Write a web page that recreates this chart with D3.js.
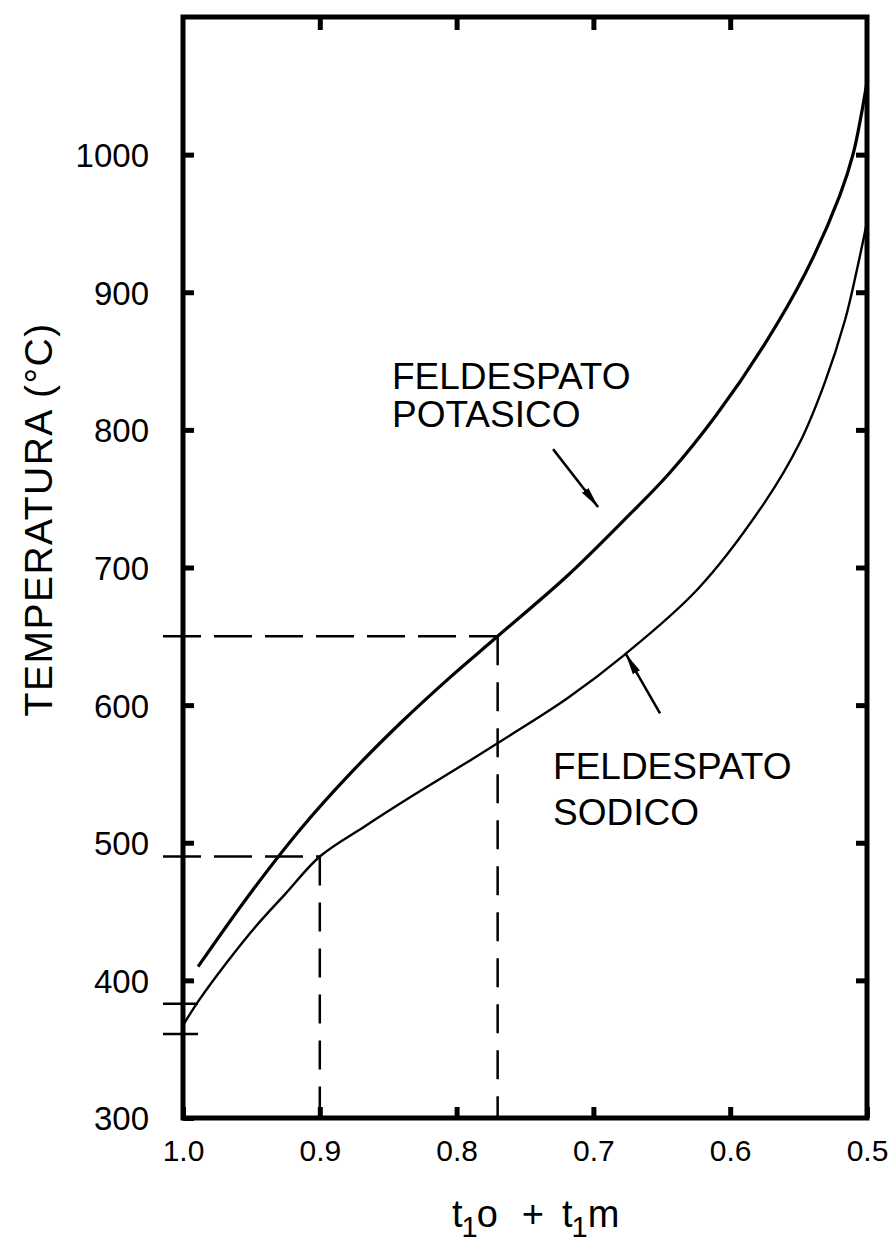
<!DOCTYPE html>
<html>
<head>
<meta charset="utf-8">
<script src="https://cdn.jsdelivr.net/npm/d3@7"></script>
<style>
  body { margin: 0; background: #fff; }
  svg { display: block; }
</style>
</head>
<body>
<div id="chart"></div>
<script>
// chart data
const xTickValues = [1.0, 0.9, 0.8, 0.7, 0.6, 0.5]
const xTickLabels = ["1.0", "0.9", "0.8", "0.7", "0.6", "0.5"]
const yTickValues = [300, 400, 500, 600, 700, 800, 900, 1000]
const yTickLabels = ["300", "400", "500", "600", "700", "800", "900", "1000"]

// feldespato potasico (upper curve)
const kX = [0.989, 0.951, 0.914, 0.878, 0.841, 0.805, 0.77, 0.719, 0.678, 0.644, 0.61, 0.575, 0.545, 0.52, 0.51, 0.504, 0.5]
const kT = [410, 463, 510, 550, 587, 620, 650, 694, 734, 769, 811, 862, 914, 970, 1001, 1030, 1053]

// feldespato sodico (lower curve)
const naX = [0.999, 0.988, 0.968, 0.947, 0.925, 0.9, 0.867, 0.834, 0.798, 0.761, 0.719, 0.678, 0.624, 0.575, 0.549, 0.531, 0.516, 0.507, 0.5]
const naT = [369, 386, 413, 439, 463, 490, 512, 533, 555, 578, 605, 636, 684, 747, 791, 834, 880, 918, 951]

// dashed read-off lines
const guideX = [0.9, 0.77]
const guideT = [490, 650]
// small extra marks on the temperature axis
const extraT = [383, 361]

// labels
const labelK = ["FELDESPATO", "POTASICO"]
const labelNa = ["FELDESPATO", "SODICO"]

let width = 889
let height = 1245

const x = d3.scaleLinear().domain([1.0, 0.5]).range([183, 867])
const y = d3.scaleLinear().domain([300, 1100]).range([1118, 17])

const svg = d3.select("#chart").append("svg")
  .attr("width", width)
  .attr("height", height)
  .style("font-family", "'Liberation Sans', Arial, sans-serif")

svg.append("rect").attr("width", width).attr("height", height).attr("fill", "#fff")

svg.append("defs").append("marker")
  .attr("id", "arrow")
  .attr("viewBox", "0 0 22 10")
  .attr("refX", 21).attr("refY", 5)
  .attr("markerWidth", 22).attr("markerHeight", 10)
  .attr("markerUnits", "userSpaceOnUse")
  .attr("orient", "auto")
  .append("path")
  .attr("d", "M0,1 L22,5 L0,9 z")
  .attr("fill", "#000")

// ---------- axes (ticks pointing inward) ----------
const tickStyle = (g) => {
  g.select(".domain").remove()
  g.selectAll(".tick line").attr("stroke", "#000").attr("stroke-width", 5)
  g.selectAll(".tick text").attr("fill", "#000")
}

svg.append("g")
  .attr("transform", `translate(${x(1.0)},0)`)
  .call(d3.axisLeft(y).tickValues(yTickValues).tickSize(-11).tickPadding(34)
    .tickFormat((d, i) => yTickLabels[i]))
  .call(tickStyle)
  .call((g) => g.selectAll(".tick text").attr("font-size", 33).attr("dy", "0.36em")
    .attr("font-family", "'Liberation Sans', Arial, sans-serif"))

svg.append("g")
  .attr("transform", `translate(${x(0.5)},0)`)
  .call(d3.axisRight(y).tickValues(yTickValues.slice(1)).tickSize(-11).tickFormat(""))
  .call(tickStyle)

svg.append("g")
  .attr("transform", `translate(0,${y(300)})`)
  .call(d3.axisBottom(x).tickValues(xTickValues).tickSize(-11).tickPadding(22)
    .tickFormat((d, i) => xTickLabels[i]))
  .call(tickStyle)
  .call((g) => g.selectAll(".tick text").attr("font-size", 30)
    .attr("font-family", "'Liberation Sans', Arial, sans-serif"))

svg.append("g")
  .attr("transform", `translate(0,${y(1100)})`)
  .call(d3.axisTop(x).tickValues(xTickValues.slice(1, -1)).tickSize(-13).tickFormat(""))
  .call(tickStyle)

// frame
svg.append("rect")
  .attr("x", x(1.0)).attr("y", y(1100))
  .attr("width", x(0.5) - x(1.0)).attr("height", y(300) - y(1100))
  .attr("fill", "none").attr("stroke", "#000").attr("stroke-width", 5)

// extra marks crossing the temperature axis
svg.append("g").selectAll("line").data(extraT).join("line")
  .attr("x1", x(1.0) - 20).attr("x2", x(1.0) + 15)
  .attr("y1", (d) => y(d)).attr("y2", (d) => y(d))
  .attr("stroke", "#000").attr("stroke-width", 2.5)

// ---------- dashed guides ----------
const guides = guideX.map((gx, i) => ({ gx, gt: guideT[i] }))
const dash = svg.append("g").attr("stroke", "#000").attr("stroke-width", 2.5)
  .attr("fill", "none")
dash.selectAll(".h").data(guides).join("line").attr("class", "h")
  .attr("stroke-dasharray", "38,13")
  .attr("x1", x(1.0) - 20).attr("x2", (d) => x(d.gx))
  .attr("y1", (d) => y(d.gt)).attr("y2", (d) => y(d.gt))
dash.selectAll(".v").data(guides).join("line").attr("class", "v")
  .attr("stroke-dasharray", "29,17")
  .attr("x1", (d) => x(d.gx)).attr("x2", (d) => x(d.gx))
  .attr("y1", (d) => y(d.gt)).attr("y2", y(300))

// ---------- curves ----------
const line = d3.line()
  .x((d) => x(d[0]))
  .y((d) => y(d[1]))
  .curve(d3.curveCatmullRom.alpha(0.5))

svg.append("path")
  .datum(kX.map((v, i) => [v, kT[i]]))
  .attr("d", line)
  .attr("fill", "none").attr("stroke", "#000").attr("stroke-width", 3.2)

svg.append("path")
  .datum(naX.map((v, i) => [v, naT[i]]))
  .attr("d", line)
  .attr("fill", "none").attr("stroke", "#000").attr("stroke-width", 2.4)

// ---------- annotations ----------
const arrows = [
  { from: [0.7295, 786], to: [0.6966, 744] },
  { from: [0.6513, 594], to: [0.6762, 637] },
]
svg.append("g").selectAll("line").data(arrows).join("line")
  .attr("x1", (d) => x(d.from[0])).attr("y1", (d) => y(d.from[1]))
  .attr("x2", (d) => x(d.to[0])).attr("y2", (d) => y(d.to[1]))
  .attr("stroke", "#000").attr("stroke-width", 2.5)
  .attr("marker-end", "url(#arrow)")

const addLabel = (lines, ax, at, lineGap) => {
  const t = svg.append("text")
    .attr("x", x(ax)).attr("y", y(at))
    .attr("font-size", 37).attr("fill", "#000")
  lines.forEach((s, i) => {
    t.append("tspan").attr("x", x(ax)).attr("dy", i === 0 ? 0 : lineGap).text(s)
  })
}
addLabel(labelK, 0.8472, 829.5, 38)
addLabel(labelNa, 0.7295, 546, 46)

// axis titles
svg.append("text")
  .attr("transform", `translate(52,${y(735)}) rotate(-90)`)
  .attr("text-anchor", "middle")
  .attr("font-size", 39)
  .attr("letter-spacing", 1.5)
  .attr("fill", "#000")
  .text("TEMPERATURA (°C)")

const xt = svg.append("text")
  .attr("x", 452).attr("y", 1227)
  .attr("font-size", 38)
  .attr("fill", "#000")
xt.append("tspan").text("t")
xt.append("tspan").attr("dx", -1).attr("dy", 10).attr("font-size", 29).text("1")
xt.append("tspan").attr("dx", -1).attr("dy", -10).text("o")
xt.append("tspan").attr("dx", 24).text("+")
xt.append("tspan").attr("dx", 18).text("t")
xt.append("tspan").attr("dx", -1).attr("dy", 10).attr("font-size", 29).text("1")
xt.append("tspan").attr("dx", 0).attr("dy", -10).text("m")
</script>
</body>
</html>
